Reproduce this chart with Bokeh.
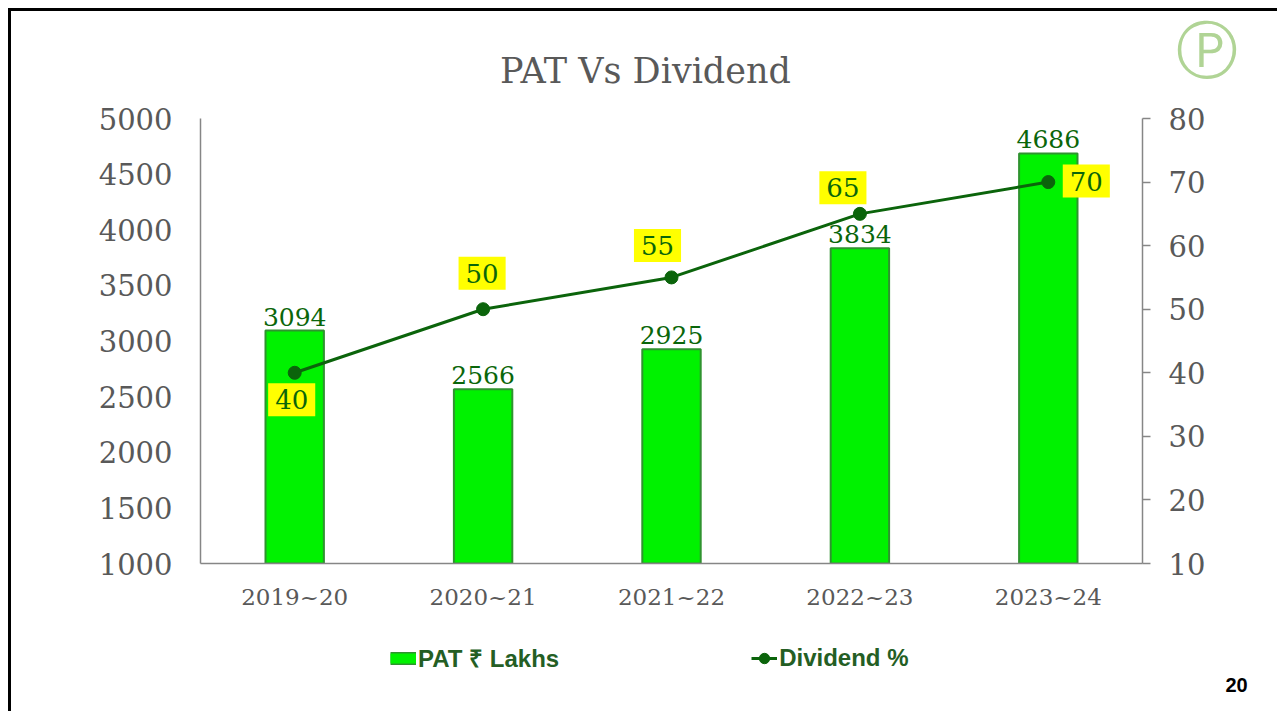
from bokeh.plotting import figure
from bokeh.layouts import column
from bokeh.models import (ColumnDataSource, LinearAxis, Range1d, FactorRange,
                          Legend, LegendItem, FixedTicker)
from bokeh.core.properties import value
from bokeh.embed import file_html
from bokeh.resources import INLINE

# ---------------- data ----------------
years = ["2019~20", "2020~21", "2021~22", "2022~23", "2023~24"]
pat = [3094, 2566, 2925, 3834, 4686]
dividend = [40, 50, 55, 65, 70]
pat_labels = ["3094", "2566", "2925", "3834", "4686"]
div_labels = ["40", "50", "55", "65", "70"]
left_ticks = [1000, 1500, 2000, 2500, 3000, 3500, 4000, 4500, 5000]
right_ticks = [10, 20, 30, 40, 50, 60, 70, 80]
title_text = "PAT Vs Dividend"
legend_bar = "PAT ₹ Lakhs"
legend_line = "Dividend %"
page_no = "20"
logo_mark = "Ⓟ"

# label placement (style, screen px)
div_dx = [-3, -1, -14, -17, 38]
div_dy = [27, -36, -32, -26, -1]

GREY = "#595959"
AXIS = "#868686"
DKGREEN = "#0a660a"
LINEGREEN = "#0b640b"
BARFILL = "#00f200"
BAREDGE = "#2f932f"
SERIF = "DejaVu Serif"

W = 1266
FRAME_W = 942          # plot-frame width in px (frames of the stacked figures align)
H_TOP, H_MAIN, H_BOT = 92, 517, 91


def strip(height):
    f = figure(width=W, height=height, x_range=Range1d(0, FRAME_W),
               y_range=Range1d(height, 0), output_backend="svg", toolbar_location=None,
               x_axis_location=None, y_axis_location=None, min_border_left=189,
               min_border_right=135, min_border_top=0, min_border_bottom=0,
               title_location=None)
    f.xgrid.grid_line_color = None
    f.ygrid.grid_line_color = None
    f.outline_line_color = None
    f.border_fill_color = "white"
    return f


def side_text(fig, pos, text, font, size, color, standoff, style="normal"):
    ax = LinearAxis(ticker=FixedTicker(ticks=[pos]), major_label_overrides={pos: text})
    ax.axis_line_color = None
    ax.major_tick_line_color = None
    ax.minor_tick_line_color = None
    ax.major_label_text_font = font
    ax.major_label_text_font_size = size
    ax.major_label_text_font_style = style
    ax.major_label_text_color = color
    ax.major_label_standoff = standoff
    fig.add_layout(ax, "right")


# ---------------- top strip: title + logo ----------------
top = strip(H_TOP)
top.text(x=[445], y=[59], text=[title_text], text_align="center", text_baseline="middle",
         text_font=value(SERIF), text_font_size="35px", text_color=GREY)
side_text(top, 34, logo_mark, "DejaVu Sans", "62px", "#b0d495", 27)

# ---------------- main chart ----------------
p = figure(width=W, height=H_MAIN, x_range=FactorRange(*years),
           y_range=Range1d(1000, 5000), output_backend="svg", toolbar_location=None,
           min_border_left=189, min_border_right=135, min_border_top=15,
           min_border_bottom=57, title_location=None)
p.extra_y_ranges = {"div": Range1d(10, 80)}
p.xgrid.grid_line_color = None
p.ygrid.grid_line_color = None
p.outline_line_color = None
p.border_fill_color = "white"

src = ColumnDataSource(dict(year=years, pat=pat, div=dividend, pl=pat_labels,
                            dl=div_labels, dx=div_dx, dy=div_dy))

p.vbar(x="year", top="pat", width=0.31, source=src, fill_color=BARFILL,
       line_color=BAREDGE, line_width=2)
p.text(x="year", y="pat", text="pl", source=src, text_align="center",
       text_baseline="bottom", y_offset=-5, text_font=value(SERIF),
       text_font_size="25px", text_color=DKGREEN)

p.line(x="year", y="div", source=src, y_range_name="div", line_color=LINEGREEN,
       line_width=3)
p.scatter(x="year", y="div", source=src, y_range_name="div", size=13,
          fill_color=LINEGREEN, line_color=LINEGREEN)
p.text(x="year", y="div", text="dl", source=src, y_range_name="div",
       x_offset="dx", y_offset="dy", text_align="center", text_baseline="middle",
       text_font=value(SERIF), text_font_size="26px", text_color=DKGREEN,
       background_fill_color="#ffff00", padding=7)

la = p.yaxis[0]
la.ticker = FixedTicker(ticks=left_ticks)
la.major_label_text_font = SERIF
la.major_label_text_font_size = "29px"
la.major_label_text_color = GREY
la.major_tick_line_color = None
la.minor_tick_line_color = None
la.axis_line_color = AXIS
la.axis_line_width = 1.5
la.major_label_standoff = 22

ba = p.xaxis[0]
ba.major_label_text_font = SERIF
ba.major_label_text_font_size = "23px"
ba.major_label_text_color = GREY
ba.major_tick_line_color = None
ba.axis_line_color = AXIS
ba.axis_line_width = 1.5
ba.major_label_standoff = 14

ra = LinearAxis(y_range_name="div", ticker=FixedTicker(ticks=right_ticks))
ra.major_label_text_font = SERIF
ra.major_label_text_font_size = "29px"
ra.major_label_text_color = GREY
ra.major_tick_line_color = AXIS
ra.major_tick_line_width = 1.5
ra.major_tick_out = 8
ra.major_tick_in = 0
ra.minor_tick_line_color = None
ra.axis_line_color = AXIS
ra.axis_line_width = 1.5
ra.major_label_standoff = 18
p.add_layout(ra, "right")

# ---------------- bottom strip: legend + page number ----------------
bot = strip(H_BOT)
# invisible legend proxies (kept outside the strip's visible range)
px, py = [-60, -50], [-60, -60]
sw_o = bot.line(x=px, y=py, line_color=BAREDGE, line_width=13, line_cap="butt")
sw_i = bot.line(x=px, y=py, line_color=BARFILL, line_width=10, line_cap="butt")
lg_l = bot.line(x=px, y=py, line_color=LINEGREEN, line_width=3)
lg_s = bot.scatter(x=px, y=py, size=13, fill_color=LINEGREEN, line_color=LINEGREEN)
leg = Legend(items=[LegendItem(label=legend_bar, renderers=[sw_o, sw_i]),
                    LegendItem(label=legend_line, renderers=[lg_l, lg_s])],
             location=(190, 37), orientation="horizontal", padding=0, margin=0,
             spacing=192, border_line_color=None, background_fill_alpha=0,
             label_text_font="Liberation Sans", label_text_font_style="bold",
             label_text_font_size="24px", label_text_color="#245e24",
             label_standoff=2, glyph_height=26, glyph_width=26)
bot.add_layout(leg)
side_text(bot, 64, page_no, "Liberation Sans", "20px", "black", 77, style="bold")

layout = column(top, p, bot, spacing=0)
layout.styles = {"margin-left": "8px", "margin-top": "8px",
                 "border-left": "3px solid black", "border-top": "3px solid black"}

open("out.html", "w").write(file_html(layout, INLINE))
